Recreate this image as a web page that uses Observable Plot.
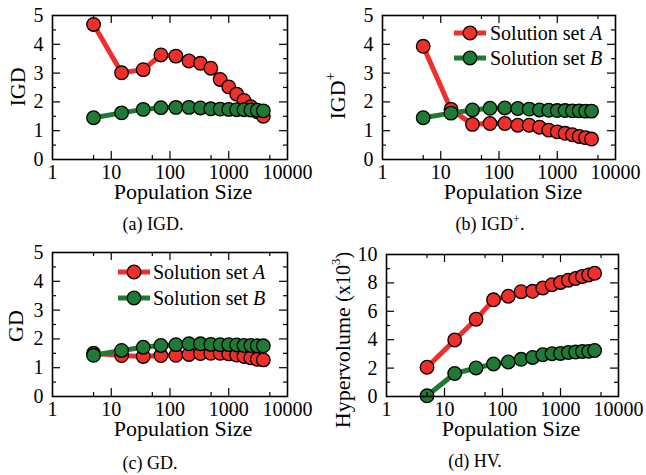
<!DOCTYPE html>
<html><head><meta charset="utf-8">
<script src="https://cdn.jsdelivr.net/npm/d3@7"></script>
<script src="https://cdn.jsdelivr.net/npm/@observablehq/plot@0.6"></script>
<style>
body{margin:0;background:#fff;}
#chart{position:relative;width:646px;height:475px;background:#fff;}
.panel{position:absolute;}
#chart svg, #chart svg text, #chart svg tspan{font-family:"Liberation Serif","DejaVu Serif",serif !important;}
</style></head><body><div id="chart"></div>
<script>
// ---- data ----
const popSize = [5,15,35,70,126,210,330,495,715,1001,1365,1820,2380,3060,3876];
const igdA  = [4.69,3.01,3.12,3.63,3.59,3.42,3.34,3.17,2.78,2.52,2.27,2.05,1.83,1.66,1.50];
const igdB  = [1.45,1.62,1.74,1.80,1.81,1.81,1.79,1.76,1.75,1.74,1.73,1.73,1.72,1.71,1.69];
const igdpA = [3.93,1.74,1.22,1.25,1.25,1.19,1.19,1.12,1.02,0.96,0.91,0.86,0.80,0.76,0.71];
const igdpB = [1.45,1.61,1.72,1.78,1.79,1.77,1.75,1.72,1.71,1.70,1.70,1.69,1.69,1.68,1.68];
const gdA   = [1.50,1.42,1.39,1.42,1.43,1.46,1.49,1.50,1.50,1.48,1.44,1.39,1.34,1.29,1.27];
const gdB   = [1.43,1.60,1.71,1.77,1.80,1.83,1.83,1.81,1.80,1.80,1.79,1.77,1.77,1.76,1.76];
const hvA   = [2.06,3.98,5.44,6.81,7.06,7.38,7.41,7.64,7.87,8.03,8.19,8.31,8.45,8.56,8.68];
const hvB   = [0.05,1.62,2.01,2.29,2.43,2.62,2.75,2.94,3.01,3.03,3.10,3.13,3.17,3.18,3.24];
const xMajor = [1,10,100,1000,10000];
const xMinor = [5,50,500,5000];
const seriesNames = ["Solution set A","Solution set B"];

const RED = "#f02f2a", GREEN = "#1f7a35";
const FONT = '"Liberation Serif","DejaVu Serif",serif';

function makePanel(cfg){
  const {left, top, w, h, mt, mr, mb, ml, yMax, yStep, a, b} = cfg;
  const ph = h - mt - mb, pw = w - ml - mr;
  const yMajor = d3.range(0, yMax + 1e-9, yStep);
  const yMinor = d3.range(yStep/2, yMax, yStep);
  const A = popSize.map((x,i)=>({x, y:a[i]}));
  const B = popSize.map((x,i)=>({x, y:b[i]}));
  const tickStyle = {stroke:"black", strokeWidth:1.2};
  const svg = Plot.plot({
    width:w, height:h, marginTop:mt, marginRight:mr, marginBottom:mb, marginLeft:ml,
    x:{type:"log", domain:[1,10000]},
    y:{domain:[0,yMax]},
    style:{fontFamily:FONT, fontSize:"19px", color:"black", background:"white", overflow:"visible"},
    marks:[
      Plot.line(A, {x:"x", y:"y", stroke:RED, strokeWidth:5}),
      Plot.dot(A, {x:"x", y:"y", r:6.8, fill:RED, stroke:"black", strokeWidth:1.3}),
      Plot.line(B, {x:"x", y:"y", stroke:GREEN, strokeWidth:5}),
      Plot.dot(B, {x:"x", y:"y", r:6.8, fill:GREEN, stroke:"black", strokeWidth:1.3}),
      Plot.tickX(xMajor.slice(1,-1), {x:d=>d, insetTop:ph-8, ...tickStyle}),
      Plot.tickX(xMajor.slice(1,-1), {x:d=>d, insetBottom:ph-8, ...tickStyle}),
      Plot.tickX(xMinor, {x:d=>d, insetTop:ph-4, ...tickStyle}),
      Plot.tickX(xMinor, {x:d=>d, insetBottom:ph-4, ...tickStyle}),
      Plot.tickY(yMajor.slice(1,-1), {y:d=>d, insetRight:pw-8, ...tickStyle}),
      Plot.tickY(yMajor.slice(1,-1), {y:d=>d, insetLeft:pw-8, ...tickStyle}),
      Plot.tickY(yMinor, {y:d=>d, insetRight:pw-4, ...tickStyle}),
      Plot.tickY(yMinor, {y:d=>d, insetLeft:pw-4, ...tickStyle}),
      Plot.axisX(xMajor, {anchor:"bottom", tickSize:0, tickPadding:5, tickFormat:d=>String(d), label:null, fontSize:20}),
      Plot.axisY(yMajor, {anchor:"left", tickSize:0, tickPadding:9, tickFormat:d=>String(d), label:null, fontSize:20}),
      Plot.frame({stroke:"black", strokeWidth:1.6})
    ]
  });
  const div = document.createElement("div");
  div.className = "panel";
  div.style.left = left + "px"; div.style.top = top + "px";
  div.appendChild(svg);
  document.getElementById("chart").appendChild(div);
  const s = d3.select(svg);
  // x label
  s.append("text").attr("x", cfg.xlabX).attr("y", cfg.xlabY).attr("text-anchor","middle")
    .attr("font-family",FONT).attr("font-size",22).text("Population Size");
  // y label
  const yl = s.append("text").attr("transform",`translate(${cfg.ylabX},${cfg.ylabY}) rotate(-90)`)
    .attr("text-anchor","middle").attr("dominant-baseline","middle")
    .attr("font-family",FONT).attr("font-size",22);
  cfg.ylab(yl);
  // caption
  const cap = s.append("text").attr("x", cfg.capX).attr("y", cfg.capY).attr("text-anchor","middle")
    .attr("font-family",FONT).attr("font-size",18);
  cfg.cap(cap);
  // legend
  if (cfg.legend){
    const {lx0, lx1, tx, ys} = cfg.legend;
    [[RED,ys[0],"A"],[GREEN,ys[1],"B"]].forEach(([c,y,letter],i)=>{
      s.append("line").attr("x1",lx0).attr("x2",lx1).attr("y1",y).attr("y2",y)
        .attr("stroke",c).attr("stroke-width",5);
      s.append("circle").attr("cx",(lx0+lx1)/2).attr("cy",y).attr("r",6.8)
        .attr("fill",c).attr("stroke","black").attr("stroke-width",1.3);
      const t = s.append("text").attr("x",tx).attr("y",y).attr("dy","0.35em")
        .attr("text-anchor","start")
        .attr("font-family",FONT).attr("font-size",20);
      t.append("tspan").text(seriesNames[i].slice(0,-1));
      t.append("tspan").attr("font-style","italic").text(letter);
    });
  }
}

makePanel({left:0, top:0, w:323, h:237, mt:15, mr:36, mb:78, ml:52, yMax:5, yStep:1, a:igdA, b:igdB,
  xlabX:183, xlabY:199, ylabX:20, ylabY:87, capX:153, capY:230,
  ylab:t=>t.text("IGD"), cap:t=>t.text("(a) IGD.")});

makePanel({left:323, top:0, w:323, h:237, mt:15, mr:31, mb:78, ml:59, yMax:5, yStep:1, a:igdpA, b:igdpB,
  xlabX:190, xlabY:199, ylabX:17, ylabY:96, capX:167, capY:230,
  ylab:t=>{t.append("tspan").text("IGD"); t.append("tspan").attr("font-size",14).attr("dy",-8).text("+");},
  cap:t=>{t.append("tspan").text("(b) IGD"); t.append("tspan").attr("font-size",12).attr("dy",-7).text("+"); t.append("tspan").attr("dy",7).text(".");},
  legend:{lx0:131, lx1:163, tx:167, ys:[33,58]}});

makePanel({left:0, top:237, w:323, h:238, mt:15, mr:36, mb:79, ml:52, yMax:5, yStep:1, a:gdA, b:gdB,
  xlabX:183, xlabY:199, ylabX:18, ylabY:89, capX:150, capY:232,
  ylab:t=>t.text("GD"), cap:t=>t.text("(c) GD."),
  legend:{lx0:118, lx1:150, tx:153, ys:[35,61]}});

makePanel({left:323, top:237, w:323, h:238, mt:17, mr:28, mb:79, ml:63, yMax:10, yStep:2, a:hvA, b:hvB,
  xlabX:188, xlabY:199, ylabX:22, ylabY:103, capX:152, capY:230,
  ylab:t=>{t.append("tspan").text("Hypervolume ");
           t.append("tspan").attr("font-size",20).text("(x10");
           t.append("tspan").attr("font-size",13).attr("dy",-8).text("3");
           t.append("tspan").attr("font-size",20).attr("dy",8).text(")");},
  cap:t=>t.text("(d) HV.")});
</script></body></html>
